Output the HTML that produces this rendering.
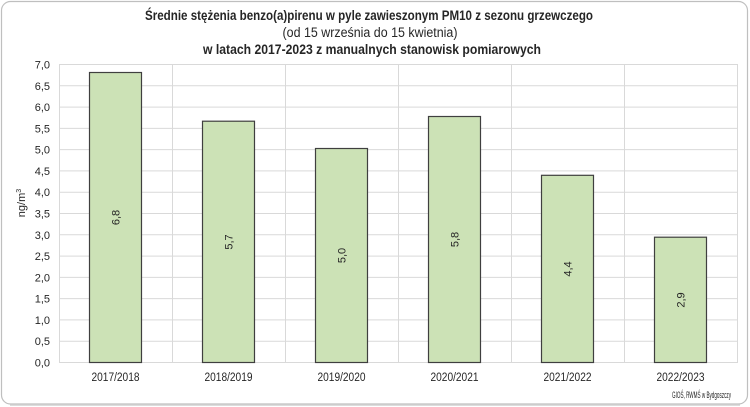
<!DOCTYPE html>
<html><head><meta charset="utf-8"><style>
html,body{margin:0;padding:0;background:#fff;}
svg{display:block;}
text{font-family:"Liberation Sans",sans-serif;fill:#262626;}
</style></head><body>
<svg width="750" height="407" viewBox="0 0 750 407" xmlns="http://www.w3.org/2000/svg">
<rect x="0" y="0" width="750" height="407" fill="#fff"/>
<rect x="1.5" y="1.5" width="746" height="402.5" rx="9" ry="9" fill="#fff" stroke="#bfbfbf" stroke-width="1.2"/>
<line x1="10" y1="405" x2="740" y2="405" stroke="#d0d0d0" stroke-width="1.5"/>
<!-- title -->
<text x="369" y="20" text-anchor="middle" font-size="13.5" font-weight="bold" textLength="448" lengthAdjust="spacingAndGlyphs">Średnie stężenia benzo(a)pirenu w pyle zawieszonym PM10 z sezonu grzewczego</text>
<text x="370" y="37" text-anchor="middle" font-size="13.5" textLength="175" lengthAdjust="spacingAndGlyphs">(od 15 września do 15 kwietnia)</text>
<text x="372" y="54" text-anchor="middle" font-size="13.5" font-weight="bold" textLength="338" lengthAdjust="spacingAndGlyphs">w latach 2017-2023 z manualnych stanowisk pomiarowych</text>
<!-- grid horizontal -->
<g stroke="#d9d9d9" stroke-width="1">
<line x1="59" y1="64.5" x2="737" y2="64.5"/>
<line x1="59" y1="85.8" x2="737" y2="85.8"/>
<line x1="59" y1="107.1" x2="737" y2="107.1"/>
<line x1="59" y1="128.4" x2="737" y2="128.4"/>
<line x1="59" y1="149.6" x2="737" y2="149.6"/>
<line x1="59" y1="170.9" x2="737" y2="170.9"/>
<line x1="59" y1="192.2" x2="737" y2="192.2"/>
<line x1="59" y1="213.5" x2="737" y2="213.5"/>
<line x1="59" y1="234.8" x2="737" y2="234.8"/>
<line x1="59" y1="256.1" x2="737" y2="256.1"/>
<line x1="59" y1="277.4" x2="737" y2="277.4"/>
<line x1="59" y1="298.6" x2="737" y2="298.6"/>
<line x1="59" y1="319.9" x2="737" y2="319.9"/>
<line x1="59" y1="341.2" x2="737" y2="341.2"/>
<line x1="59" y1="362.5" x2="737" y2="362.5"/>
<line x1="59.5" y1="64" x2="59.5" y2="363"/>
<line x1="172.5" y1="64" x2="172.5" y2="363"/>
<line x1="285.5" y1="64" x2="285.5" y2="363"/>
<line x1="398.5" y1="64" x2="398.5" y2="363"/>
<line x1="511.5" y1="64" x2="511.5" y2="363"/>
<line x1="624.5" y1="64" x2="624.5" y2="363"/>
<line x1="737.5" y1="64" x2="737.5" y2="363"/>
</g>
<!-- y tick labels -->
<g font-size="11" text-anchor="end">
<text x="50" y="68.5">7,0</text>
<text x="50" y="89.8">6,5</text>
<text x="50" y="111.1">6,0</text>
<text x="50" y="132.4">5,5</text>
<text x="50" y="153.6">5,0</text>
<text x="50" y="174.9">4,5</text>
<text x="50" y="196.2">4,0</text>
<text x="50" y="217.5">3,5</text>
<text x="50" y="238.8">3,0</text>
<text x="50" y="260.1">2,5</text>
<text x="50" y="281.4">2,0</text>
<text x="50" y="302.6">1,5</text>
<text x="50" y="323.9">1,0</text>
<text x="50" y="345.2">0,5</text>
<text x="50" y="366.5">0,0</text>
</g>
<text transform="translate(25,203) rotate(-90)" text-anchor="middle" font-size="11">ng/m<tspan font-size="7" dy="-4">3</tspan></text>
<!-- bars -->
<g fill="#cce2b6" stroke="#3f3f3f" stroke-width="1.2">
<rect x="89.5" y="72.5" width="52" height="290"/>
<rect x="202.5" y="121.2" width="52" height="241.3"/>
<rect x="315.5" y="148.5" width="52" height="214"/>
<rect x="428.5" y="116.5" width="52" height="246"/>
<rect x="541.5" y="175.3" width="52" height="187.2"/>
<rect x="654.5" y="237.2" width="52" height="125.3"/>
</g>
<!-- value labels -->
<g font-size="11" text-anchor="middle" style="fill:#1a1a1a">
<text transform="translate(119.5,217.5) rotate(-90)">6,8</text>
<text transform="translate(232.5,242) rotate(-90)">5,7</text>
<text transform="translate(345.5,255.5) rotate(-90)">5,0</text>
<text transform="translate(458.5,239.5) rotate(-90)">5,8</text>
<text transform="translate(571.5,269) rotate(-90)">4,4</text>
<text transform="translate(684.5,300) rotate(-90)">2,9</text>
</g>
<!-- x labels -->
<g font-size="11.5" text-anchor="middle">
<text x="115.5" y="381" textLength="48" lengthAdjust="spacingAndGlyphs">2017/2018</text>
<text x="228.5" y="381" textLength="48" lengthAdjust="spacingAndGlyphs">2018/2019</text>
<text x="341.5" y="381" textLength="48" lengthAdjust="spacingAndGlyphs">2019/2020</text>
<text x="454.5" y="381" textLength="48" lengthAdjust="spacingAndGlyphs">2020/2021</text>
<text x="567.5" y="381" textLength="48" lengthAdjust="spacingAndGlyphs">2021/2022</text>
<text x="680.5" y="381" textLength="48" lengthAdjust="spacingAndGlyphs">2022/2023</text>
</g>
<text x="672" y="398" font-size="9.5" textLength="59" lengthAdjust="spacingAndGlyphs">GIOŚ, RWMŚ  w Bydgoszczy</text>
</svg>
</body></html>
